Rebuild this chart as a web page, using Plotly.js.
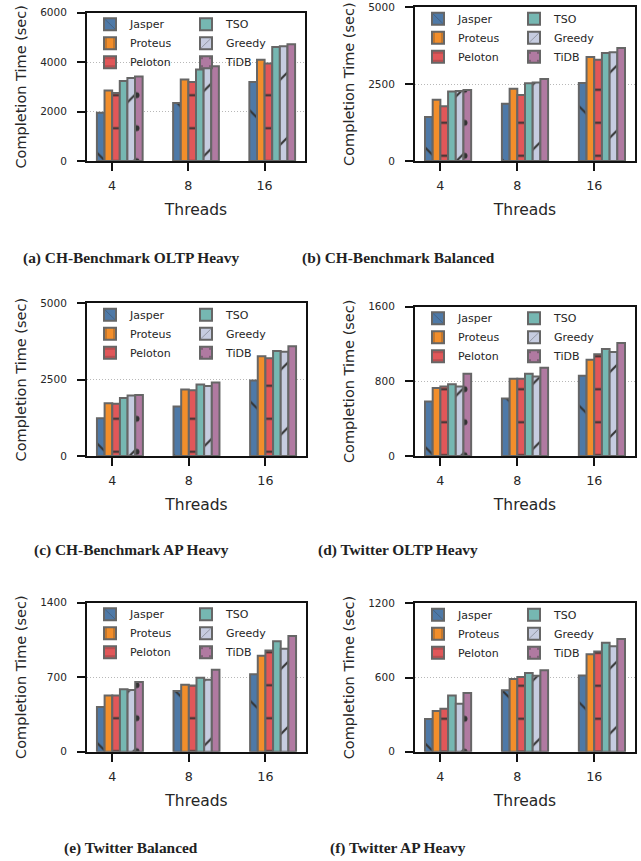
<!DOCTYPE html>
<html><head><meta charset="utf-8">
<script src="https://cdn.plot.ly/plotly-3.0.1.min.js"></script>
<style>html,body{margin:0;padding:0;background:#fff}#chart{width:641px;height:861px}</style>
</head><body><div id="chart"></div>
<script>
// ---------- data ----------
const threads = ['4', '8', '16'];
const methods = ['Jasper', 'Proteus', 'Peloton', 'TSO', 'Greedy', 'TiDB'];

// rows follow `methods`, columns follow `threads`
const chOltpHeavy = [
  [1950, 2350, 3200],
  [2850, 3300, 4100],
  [2750, 3200, 3940],
  [3240, 3700, 4610],
  [3360, 3780, 4640],
  [3420, 3830, 4720]
];
const chBalanced = [
  [1430, 1860, 2540],
  [1990, 2350, 3380],
  [1780, 2150, 3290],
  [2260, 2530, 3510],
  [2280, 2550, 3540],
  [2310, 2670, 3680]
];
const chApHeavy = [
  [1240, 1620, 2470],
  [1730, 2180, 3270],
  [1710, 2150, 3200],
  [1900, 2340, 3440],
  [1980, 2290, 3410],
  [2000, 2410, 3590]
];
const twOltpHeavy = [
  [585, 615, 860],
  [728, 828, 1032],
  [746, 828, 1090],
  [768, 882, 1146],
  [746, 853, 1114],
  [882, 946, 1210]
];
const twBalanced = [
  [420, 570, 727],
  [529, 630, 902],
  [529, 623, 952],
  [586, 695, 1037],
  [580, 677, 968],
  [655, 771, 1087]
];
const twApHeavy = [
  [265, 497, 617],
  [330, 588, 787],
  [348, 604, 811],
  [455, 636, 882],
  [388, 615, 852],
  [474, 658, 911]
];

const yTicksA = [0, 2000, 4000, 6000];
const yTicksB = [0, 2500, 5000];
const yTicksC = [0, 2500, 5000];
const yTicksD = [0, 800, 1600];
const yTicksE = [0, 700, 1400];
const yTicksF = [0, 600, 1200];

const captions = [
  '(a) CH-Benchmark OLTP Heavy',
  '(b) CH-Benchmark Balanced',
  '(c) CH-Benchmark AP Heavy',
  '(d) Twitter OLTP Heavy',
  '(e) Twitter Balanced',
  '(f) Twitter AP Heavy'
];
const xTitle = 'Threads';
const yTitle = 'Completion Time (sec)';

// ---------- style ----------
const W = 641, H = 861;
const fills = ['#4e79a7', '#f28e2b', '#e15759', '#76b7b2', '#c6cce0', '#b07aa1'];
const hatch = ['\\', '|', '-', '', '/', '.'];
const hatchSize = [46, 33, 33, 33, 46, 33];
const hatchSolid = [0.045, 0.06, 0.06, 0.05, 0.045, 0.026];
const barW = 0.1;

// [left, right, top, bottom] in px, caption y (px), caption centre x (px)
const panels = [
  {data: chOltpHeavy, ticks: yTicksA, box: [87, 305, 12.7, 161], capY: 258, capX: 131},
  {data: chBalanced,  ticks: yTicksB, box: [415, 635, 7.3, 161], capY: 258, capX: 398},
  {data: chApHeavy,   ticks: yTicksC, box: [87, 306, 303.3, 456], capY: 550, capX: 131},
  {data: twOltpHeavy, ticks: yTicksD, box: [415, 635, 306.7, 456], capY: 550, capX: 398},
  {data: twBalanced,  ticks: yTicksE, box: [87, 306, 602.7, 751.7], capY: 848, capX: 131},
  {data: twApHeavy,   ticks: yTicksF, box: [415, 635, 603.3, 751.7], capY: 848, capX: 398}
];

const traces = [];
const layout = {
  width: W, height: H,
  margin: {l: 0, r: 0, t: 0, b: 0},
  paper_bgcolor: '#fff', plot_bgcolor: '#fff',
  barmode: 'overlay',
  showlegend: true,
  font: {family: 'DejaVu Sans', color: '#262626'},
  annotations: []
};

panels.forEach((p, k) => {
  const n = k + 1;
  const sfx = n === 1 ? '' : String(n);
  const [l, r, t, b] = p.box;
  const xa = 'xaxis' + sfx, ya = 'yaxis' + sfx;
  layout[xa] = {
    domain: [l / W, r / W],
    anchor: 'y' + sfx,
    range: [-0.33, 2.53],
    tickmode: 'array', tickvals: [0, 1, 2], ticktext: threads,
    showgrid: false, zeroline: false,
    showline: true, mirror: true, linecolor: '#111', linewidth: 2,
    ticks: 'outside', ticklen: 8, tickwidth: 2, tickcolor: '#111',
    ticklabelstandoff: 4,
    tickfont: {family: 'DejaVu Sans', size: 12.7, color: '#262626'},
    title: {text: xTitle, font: {family: 'DejaVu Sans', size: 15.5, color: '#262626'}, standoff: 12},
    fixedrange: true
  };
  const yMax = p.ticks[p.ticks.length - 1];
  layout[ya] = {
    domain: [1 - b / H, 1 - t / H],
    anchor: 'x' + sfx,
    range: [0, yMax],
    tickmode: 'array', tickvals: p.ticks,
    showgrid: true, gridcolor: '#b8b8b8', gridwidth: 1, griddash: '1px,2px',
    zeroline: false,
    showline: true, mirror: true, linecolor: '#111', linewidth: 2,
    ticks: 'outside', ticklen: 8, tickwidth: 2, tickcolor: '#111',
    ticklabelstandoff: 8,
    tickfont: {family: 'DejaVu Sans', size: 10.5, color: '#262626'},
    title: {text: yTitle, font: {family: 'DejaVu Sans', size: 14.5, color: '#262626'}, standoff: 10},
    fixedrange: true
  };
  const lgA = 'legend' + (n === 1 ? '' : String(n));
  const lgB = 'legend' + String(n + 6);
  const legY = 1 - (t - 3) / H;
  const legCommon = {
    bgcolor: 'rgba(0,0,0,0)', borderwidth: 0,
    xanchor: 'left', yanchor: 'top', orientation: 'v',
    font: {family: 'DejaVu Sans', size: 11, color: '#262626'},
    traceorder: 'normal', itemclick: false, itemdoubleclick: false
  };
  layout[lgA] = Object.assign({}, legCommon, {x: (l + 3) / W, y: legY});
  layout[lgB] = Object.assign({}, legCommon, {x: (l + 99) / W, y: legY});

  methods.forEach((m, i) => {
    traces.push({
      type: 'bar',
      name: m,
      x: [0, 1, 2],
      y: p.data[i],
      width: barW,
      offset: (i - 2) * barW,
      xaxis: 'x' + sfx, yaxis: 'y' + sfx,
      legend: i < 3 ? lgA : lgB,
      marker: {
        color: fills[i],
        line: {color: '#666', width: 2},
        pattern: {shape: hatch[i], size: hatchSize[i], solidity: hatchSolid[i],
                  fgcolor: '#333', bgcolor: fills[i], fillmode: 'replace'}
      },
      hoverinfo: 'skip'
    });
  });

  layout.annotations.push({
    xref: 'paper', yref: 'paper',
    x: p.capX / W,
    y: 1 - p.capY / H,
    xanchor: 'center', yanchor: 'middle',
    text: captions[k], showarrow: false,
    font: {family: 'Liberation Serif', size: 15.4, weight: 700, color: '#222'}
  });
});

Plotly.newPlot('chart', traces, layout, {staticPlot: true, displayModeBar: false});
</script>
</body></html>
